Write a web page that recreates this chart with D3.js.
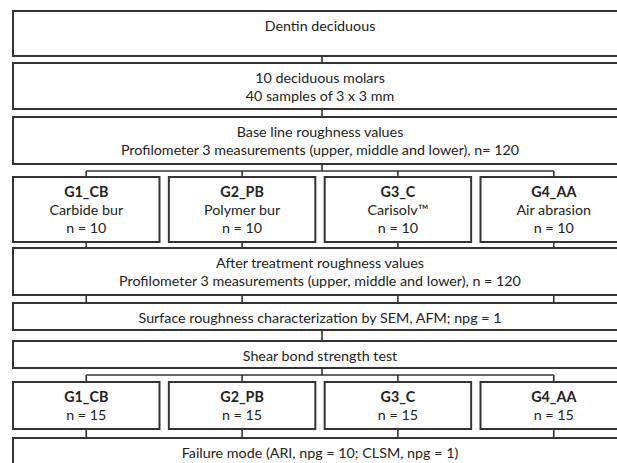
<!DOCTYPE html>
<html lang="en">
<head>
<meta charset="UTF-8">
<title>Study flowchart</title>
<script src="https://d3js.org/d3.v7.min.js"></script>
<style>
  body { margin: 0; background: #fff; }
  svg text { font-family: Lato, "Open Sans", sans-serif; fill: #222; }
</style>
</head>
<body>
<div id="flow"></div>
<script>
// Flow steps (full width boxes), top to bottom
const steps = [
  ["Dentin deciduous"],
  ["10 deciduous molars", "40 samples of 3 x 3 mm"],
  ["Base line roughness values", "Profilometer 3 measurements (upper, middle and lower), n= 120"],
  ["After treatment roughness values", "Profilometer 3 measurements (upper, middle and lower), n = 120"],
  ["Surface roughness characterization by SEM, AFM; npg = 1"],
  ["Shear bond strength test"],
  ["Failure mode (ARI, npg = 10; CLSM, npg = 1)"]
];

// Treatment groups
const groupCodes = ["G1_CB", "G2_PB", "G3_C", "G4_AA"];
const groupNames = ["Carbide bur", "Polymer bur", "Carisolv\u2122", "Air abrasion"];
const roughnessN = [10, 10, 10, 10];
const bondN = [15, 15, 15, 15];

const width = 617, height = 463;
const left = 13, right = 627;
const lineGap = 18, firstLine = 15;

// vertical layout: kind, top, height (fan = number of links coming from above)
const rows = [
  { kind: "step", i: 0, top: 11, h: 45 },
  { kind: "step", i: 1, top: 63, h: 46 },
  { kind: "step", i: 2, top: 117, h: 47 },
  { kind: "groups", lines: d => [d.code, d.name, "n = " + d.n1], top: 177, h: 65, split: 171 },
  { kind: "step", i: 3, top: 248, h: 47, fan: true },
  { kind: "step", i: 4, top: 303, h: 27, fan: true },
  { kind: "step", i: 5, top: 341, h: 27 },
  { kind: "groups", lines: d => [d.code, "n = " + d.n2], top: 382, h: 47, split: 375 },
  { kind: "step", i: 6, top: 438, h: 45, fan: true }
];

const groups = groupCodes.map((c, i) => ({ code: c, name: groupNames[i], n1: roughnessN[i], n2: bondN[i] }));

const x = d3.scaleBand().domain(groupCodes).range([left, right]).paddingInner(0.06);
const cx = c => x(c) + x.bandwidth() / 2;
const midX = 322;

const svg = d3.select("#flow").append("svg")
  .attr("width", width).attr("height", height);

const links = svg.append("g").attr("stroke", "#333").attr("stroke-width", 1.6).attr("fill", "none");
const boxes = svg.append("g");

function addText(g, lines, xc, top, boldFirst) {
  lines.forEach((t, k) => {
    g.append("text")
      .attr("x", xc)
      .attr("y", top + firstLine + k * lineGap)
      .attr("dy", "0.35em")
      .attr("text-anchor", "middle")
      .attr("font-size", 14.3)
      .attr("font-weight", boldFirst && k === 0 ? 700 : 400)
      .text(t);
  });
}

rows.forEach((r, ri) => {
  const prev = rows[ri - 1];
  if (r.kind === "step") {
    boxes.append("rect")
      .attr("x", left).attr("y", r.top)
      .attr("width", right - left).attr("height", r.h)
      .attr("fill", "#fff").attr("stroke", "#333").attr("stroke-width", 2);
    addText(boxes, steps[r.i], (left + right) / 2, r.top, false);
    if (prev) {
      const pb = prev.top + prev.h;
      if (r.fan) {
        groupCodes.forEach(c => links.append("line")
          .attr("x1", cx(c)).attr("x2", cx(c)).attr("y1", pb).attr("y2", r.top));
      } else {
        links.append("line").attr("x1", midX).attr("x2", midX).attr("y1", pb).attr("y2", r.top);
      }
    }
  } else {
    const pb = prev.top + prev.h;
    links.append("line").attr("x1", midX).attr("x2", midX).attr("y1", pb).attr("y2", r.split);
    links.append("line")
      .attr("x1", cx(groupCodes[0])).attr("x2", cx(groupCodes[groupCodes.length - 1]))
      .attr("y1", r.split).attr("y2", r.split);
    groupCodes.forEach(c => links.append("line")
      .attr("x1", cx(c)).attr("x2", cx(c)).attr("y1", r.split).attr("y2", r.top));
    const g = boxes.selectAll(null).data(groups).enter().append("g");
    g.append("rect")
      .attr("x", d => x(d.code)).attr("y", r.top)
      .attr("width", x.bandwidth()).attr("height", r.h)
      .attr("fill", "#fff").attr("stroke", "#333").attr("stroke-width", 2);
    g.each(function (d) { addText(d3.select(this), r.lines(d), cx(d.code), r.top, true); });
  }
});
</script>
</body>
</html>
